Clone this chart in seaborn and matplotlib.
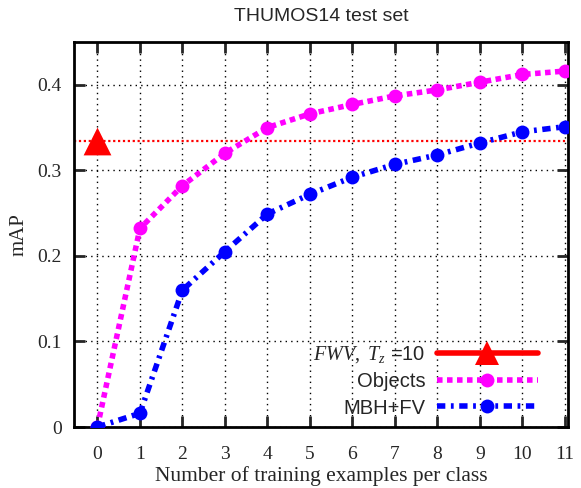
import numpy as np
import pandas as pd
import matplotlib
matplotlib.use("Agg")
import matplotlib.pyplot as plt
from matplotlib.lines import Line2D
import seaborn as sns

# ---- data ----
examples = [0, 1, 2, 3, 4, 5, 6, 7, 8, 9, 10, 11]
objects_map = [0.0, 0.232, 0.282, 0.320, 0.350, 0.366, 0.377, 0.387, 0.394, 0.403, 0.412, 0.416]
mbh_map = [0.0, 0.016, 0.160, 0.205, 0.249, 0.272, 0.292, 0.307, 0.318, 0.332, 0.345, 0.351]
fwv_x = [0]
fwv_map = [0.334]
x_ticks = [0, 1, 2, 3, 4, 5, 6, 7, 8, 9, 10, 11]
y_ticks = [0, 0.1, 0.2, 0.3, 0.4]
y_ticklabels = ["0", "0.1", "0.2", "0.3", "0.4"]

sns.set_style("ticks")
plt.rcParams["font.family"] = ["Liberation Serif", "DejaVu Serif"]
plt.rcParams["mathtext.fontset"] = "custom"
plt.rcParams["mathtext.rm"] = "Liberation Serif"
plt.rcParams["mathtext.it"] = "Liberation Serif:italic"

fig = plt.figure(figsize=(5.81, 4.88), dpi=100)
ax = fig.add_axes([0.1274, 0.125, 0.8502, 0.789])

df_obj = pd.DataFrame({"x": examples, "y": objects_map})
df_mbh = pd.DataFrame({"x": examples, "y": mbh_map})

ax.axhline(fwv_map[0], color="#ff0000", lw=1.6, ls=(0, (1, 1.2)), zorder=2)
sns.lineplot(data=df_obj, x="x", y="y", ax=ax, color="#ff00ff", lw=4,
             linestyle=(0, (1.0, 0.8)), marker="o", markersize=10,
             markeredgewidth=0, zorder=3)
sns.lineplot(data=df_mbh, x="x", y="y", ax=ax, color="#0000ff", lw=4,
             linestyle=(0, (1.5, 1.0, 0.5, 1.0)), marker="o", markersize=10,
             markeredgewidth=0, zorder=3)
sns.scatterplot(x=fwv_x, y=fwv_map, ax=ax, color="#ff0000", marker="^", s=400,
                linewidth=0, zorder=4)

ax.set_xlim(-0.55, 11.07)
ax.set_ylim(0, 0.45)
ax.set_xticks(x_ticks)
ax.set_yticks(y_ticks)
ax.set_yticklabels(y_ticklabels)
ax.grid(True, color="black", ls=(0, (1, 3)), lw=1.0)
ax.set_axisbelow(True)
ax.tick_params(direction="in", length=8, width=2, top=True, right=True,
               labelsize=14)
ax.tick_params(axis="x", pad=14)
ax.tick_params(axis="y", pad=9)
for s in ax.spines.values():
    s.set_linewidth(2)
    s.set_color("black")

ax.set_xlabel("Number of training examples per class", fontsize=15.5, labelpad=2)
ax.set_ylabel("mAP", fontsize=15, labelpad=6)
ax.set_title("THUMOS14 test set", fontsize=14, family="Liberation Sans", pad=15)

handles = [
    Line2D([], [], color="#ff0000", lw=4, marker="^", markersize=17, markeredgewidth=0),
    Line2D([], [], color="#ff00ff", lw=4, ls=(0, (1.0, 0.8)), marker="o", markersize=10, markeredgewidth=0),
    Line2D([], [], color="#0000ff", lw=4, ls=(0, (1.5, 1.0, 0.5, 1.0)), marker="o", markersize=10, markeredgewidth=0),
]
labels = [r"$\mathit{FWV},\ T_z$ =10", "Objects", "MBH+FV"]
leg = ax.legend(handles, labels, loc="lower right", bbox_to_anchor=(0.967, -0.012),
                frameon=False, markerfirst=False, handlelength=5.0,
                handletextpad=0.55, labelspacing=0.35, borderpad=0.2,
                prop={"family": "Liberation Sans", "size": 14.5})

fig.savefig("out.png", dpi=100)
